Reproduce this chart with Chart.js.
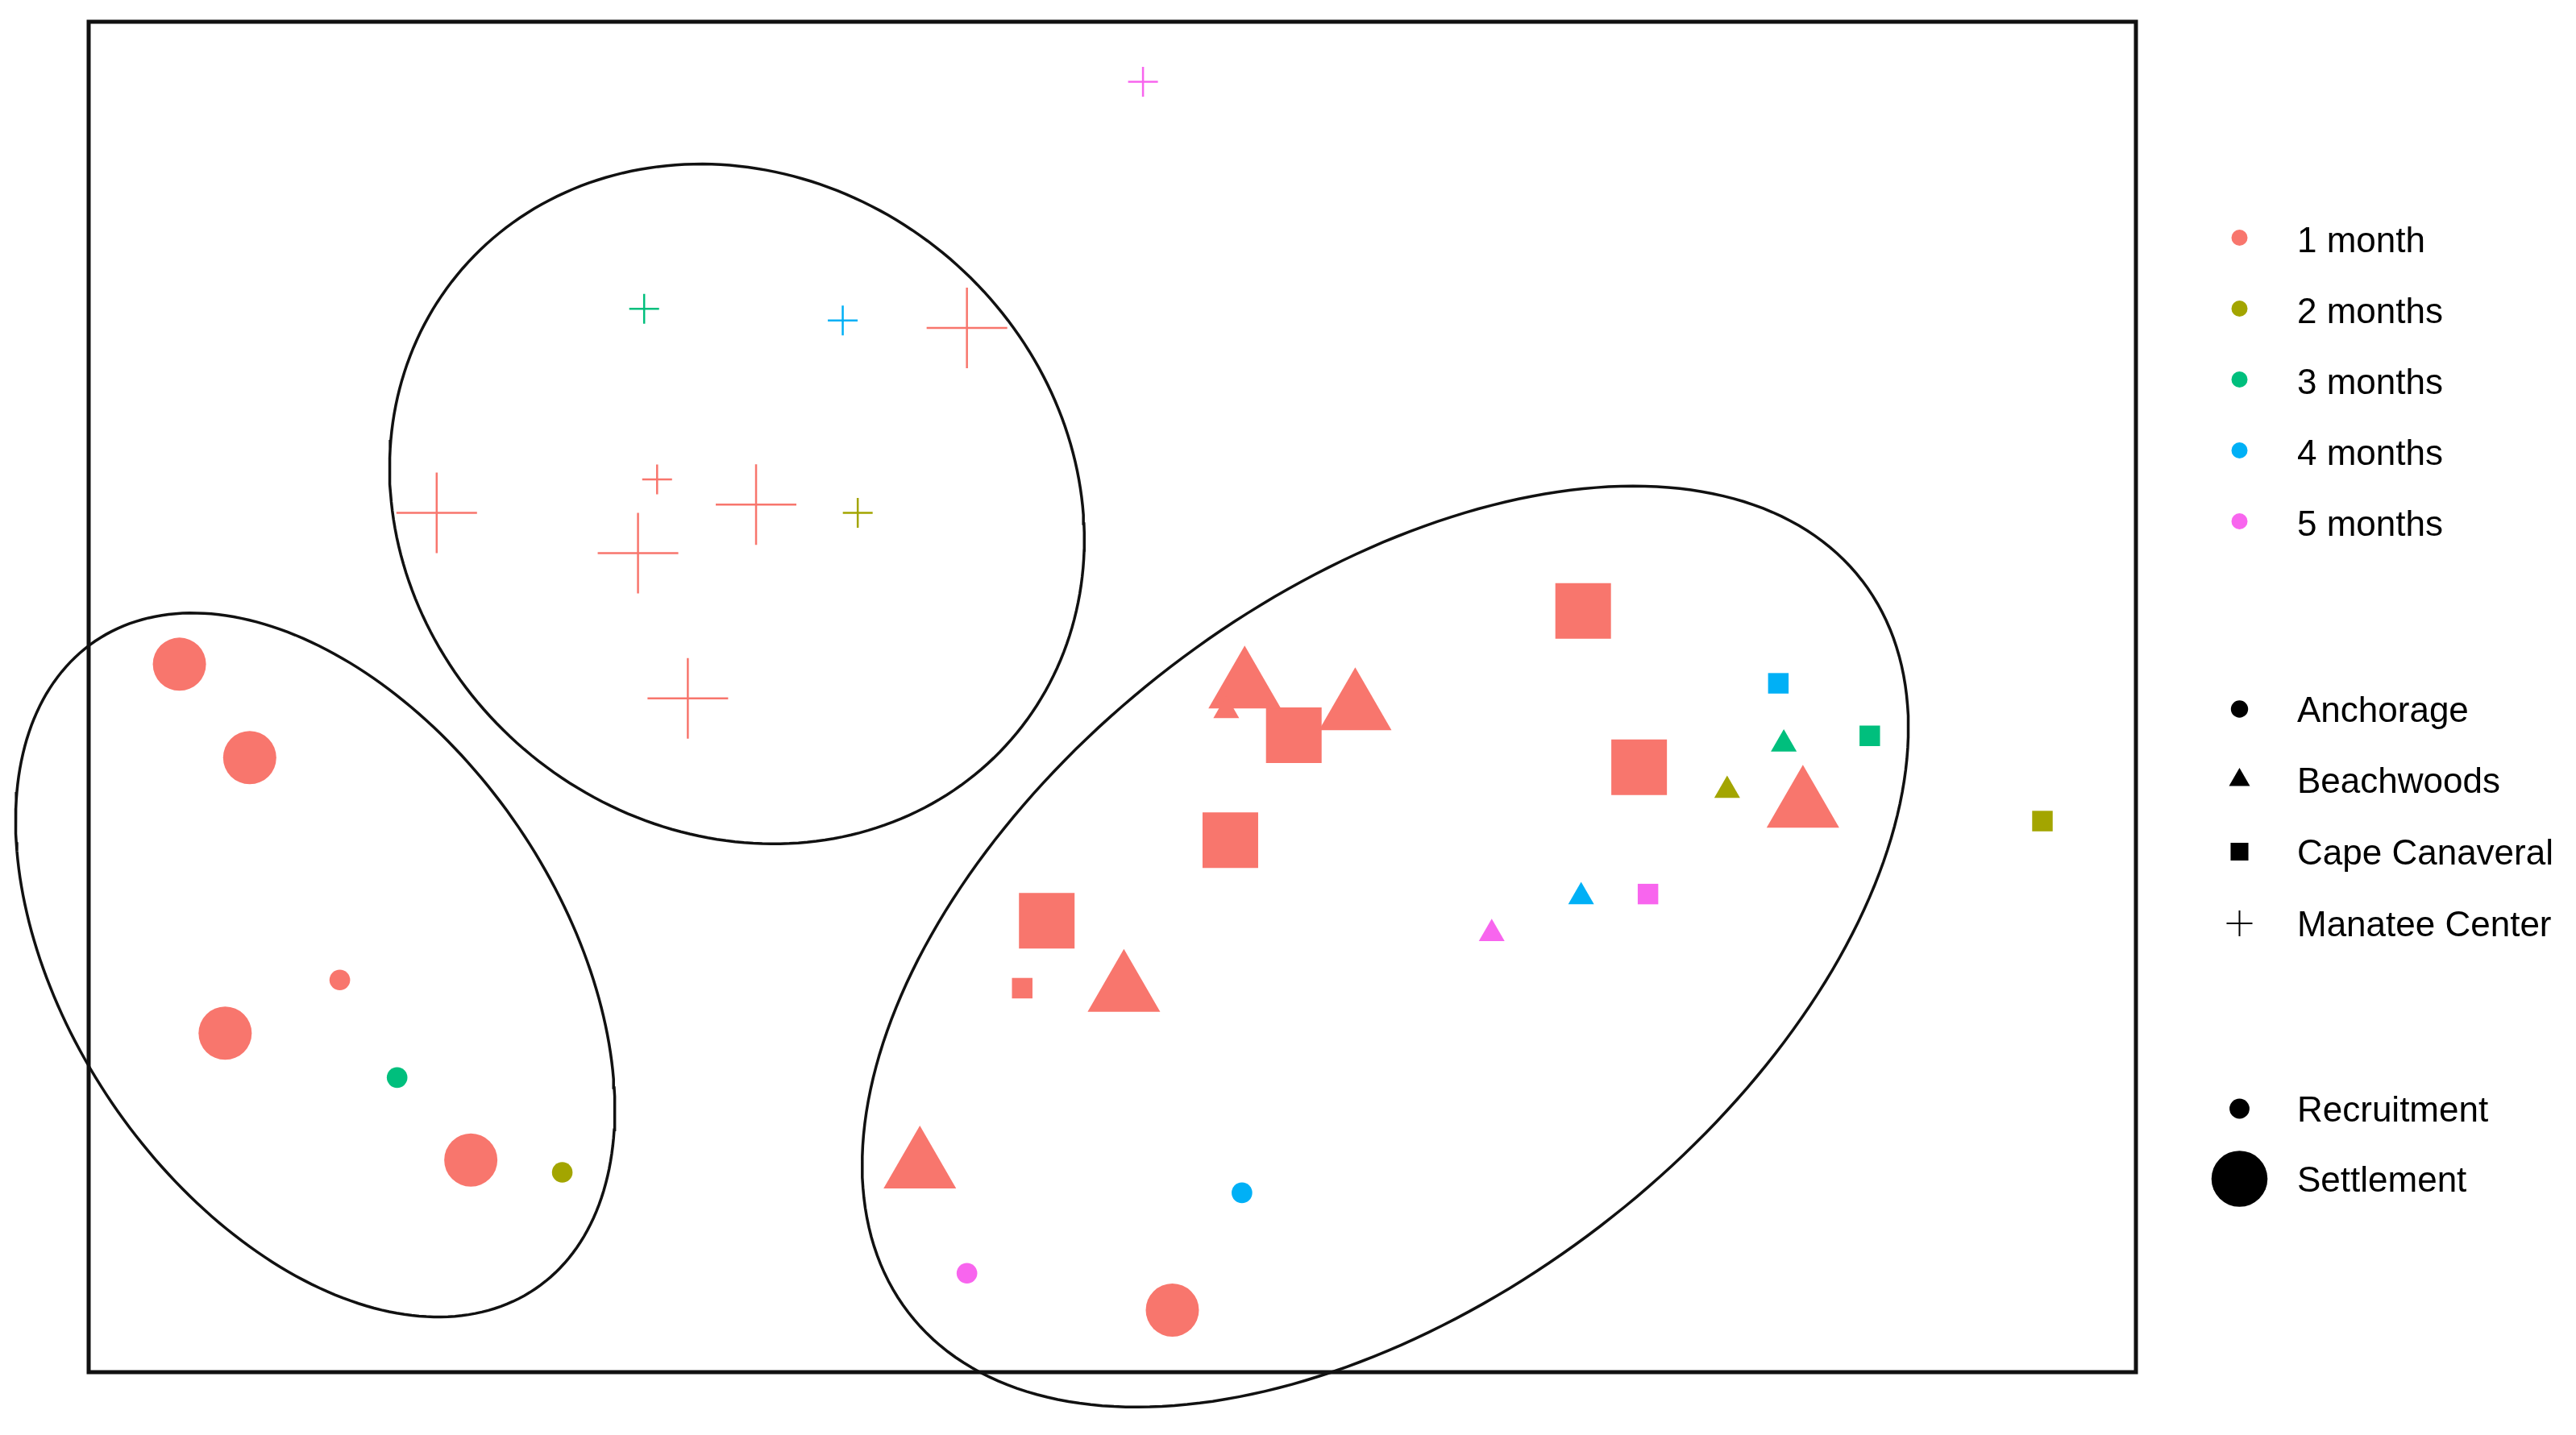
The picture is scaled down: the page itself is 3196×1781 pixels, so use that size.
<!DOCTYPE html>
<html>
<head>
<meta charset="utf-8">
<script src="https://cdn.jsdelivr.net/npm/chart.js@4.4.1/dist/chart.umd.min.js"></script>
<style>
  html, body { margin: 0; padding: 0; background: #fff; }
  #wrap { width: 3196px; height: 1781px; }
</style>
</head>
<body>
<div id="wrap"><canvas id="nmds" width="3196" height="1781"></canvas></div>
<script>
const months = ["1 month", "2 months", "3 months", "4 months", "5 months"];
const monthColors = ["#F8766D", "#A3A500", "#00BF7D", "#00B0F6", "#F865EE"];
const sites = ["Anchorage", "Beachwoods", "Cape Canaveral", "Manatee Center"];
const siteShapes = ["circle", "triangle", "rect", "cross"];
const stages = ["Recruitment", "Settlement"];

// NMDS scores per site. month = 1..5, stage S = settlement, R = recruitment
const anchorageX = [-1.367, -1.264, -1.300, -0.940, 0.088, -1.132, -1.048, -0.806, 0.190, -0.213];
const anchorageY = [0.048, -0.089, -0.493, -0.679, -0.899, -0.415, -0.558, -0.697, -0.727, -0.845];
const anchorageMonth = [1, 1, 1, 1, 1, 1, 3, 2, 4, 5];
const anchorageStage = ["S", "S", "S", "S", "S", "R", "R", "R", "R", "R"];

const beachwoodsX = [0.194, 0.356, 1.012, 0.017, -0.282, 0.167, 0.901, 0.984, 0.687, 0.556];
const beachwoodsY = [0.014, -0.018, -0.161, -0.431, -0.690, -0.020, -0.137, -0.069, -0.293, -0.347];
const beachwoodsMonth = [1, 1, 1, 1, 1, 1, 2, 3, 4, 5];
const beachwoodsStage = ["S", "S", "S", "S", "S", "R", "R", "R", "R", "R"];

const capeX = [0.690, 0.266, 0.772, 0.173, -0.096, -0.132, 1.363, 1.110, 0.976, 0.785];
const capeY = [0.126, -0.056, -0.103, -0.210, -0.328, -0.427, -0.182, -0.057, 0.020, -0.289];
const capeMonth = [1, 1, 1, 1, 1, 1, 2, 3, 4, 5];
const capeStage = ["S", "S", "S", "S", "S", "R", "R", "R", "R", "R"];

const manateeX = [-0.213, -0.990, -0.522, -0.695, -0.622, -0.667, -0.373, -0.686, -0.395, 0.045];
const manateeY = [0.541, 0.270, 0.282, 0.211, -0.002, 0.319, 0.270, 0.569, 0.552, 0.902];
const manateeMonth = [1, 1, 1, 1, 1, 1, 2, 3, 4, 5];
const manateeStage = ["S", "S", "S", "S", "S", "R", "R", "R", "R", "R"];

// group ellipses: centre, semi-axes, rotation (degrees)
const ellipseCx = [-1.168, -0.550, 0.400];
const ellipseCy = [-0.393, 0.283, -0.366];
const ellipseA = [0.574, 0.530, 0.881];
const ellipseB = [0.360, 0.476, 0.517];
const ellipseAngle = [-55.8, -39.3, 37.5];

// marker radius by shape: [recruitment, settlement]
const markerRadius = { circle: [12.8, 33], triangle: [18.5, 52], rect: [18, 48.8], cross: [18.5, 50] };

const siteData = [
  [anchorageX, anchorageY, anchorageMonth, anchorageStage],
  [beachwoodsX, beachwoodsY, beachwoodsMonth, beachwoodsStage],
  [capeX, capeY, capeMonth, capeStage],
  [manateeX, manateeY, manateeMonth, manateeStage]
];

const datasets = [];

ellipseCx.forEach((cx, i) => {
  const pts = [];
  const phi = ellipseAngle[i] * Math.PI / 180;
  for (let k = 0; k <= 240; k++) {
    const t = k / 240 * 2 * Math.PI;
    const u = ellipseA[i] * Math.cos(t), v = ellipseB[i] * Math.sin(t);
    pts.push({ x: cx + u * Math.cos(phi) - v * Math.sin(phi), y: ellipseCy[i] + u * Math.sin(phi) + v * Math.cos(phi) });
  }
  datasets.push({
    label: "ellipse " + (i + 1),
    data: pts,
    showLine: true,
    borderColor: "#111",
    borderWidth: 3.5,
    pointRadius: 0,
    tension: 0,
    fill: false,
    clip: false,
    order: 0
  });
});

siteData.forEach(([xs, ys, ms, ss], i) => {
  const shape = siteShapes[i];
  const colors = ms.map(m => monthColors[m - 1]);
  const isCross = shape === "cross";
  datasets.push({
    label: sites[i],
    data: xs.map((x, j) => ({ x: x, y: ys[j] })),
    pointStyle: shape,
    pointRadius: ss.map(s => markerRadius[shape][s === "S" ? 1 : 0]),
    pointBackgroundColor: colors,
    pointBorderColor: colors,
    pointBorderWidth: isCross ? 2.5 : 0,
    showLine: false,
    clip: false,
    order: 1
  });
});

function drawMarker(ctx, style, x, y, r, color, lw) {
  ctx.fillStyle = color;
  ctx.strokeStyle = color;
  ctx.beginPath();
  if (style === "circle") {
    ctx.arc(x, y, r, 0, Math.PI * 2);
    ctx.fill();
  } else if (style === "triangle") {
    ctx.moveTo(x, y - r);
    ctx.lineTo(x + r * Math.sin(2 * Math.PI / 3), y + r / 2);
    ctx.lineTo(x - r * Math.sin(2 * Math.PI / 3), y + r / 2);
    ctx.closePath();
    ctx.fill();
  } else if (style === "rect") {
    const s = r * Math.SQRT1_2;
    ctx.rect(x - s, y - s, 2 * s, 2 * s);
    ctx.fill();
  } else {
    ctx.lineWidth = lw || 2;
    ctx.moveTo(x - r, y); ctx.lineTo(x + r, y);
    ctx.moveTo(x, y - r); ctx.lineTo(x, y + r);
    ctx.stroke();
  }
}

const legendPlugin = {
  id: "nmdsLegend",
  afterDraw(chart) {
    const ctx = chart.ctx;
    const a = chart.chartArea;
    ctx.save();
    // panel frame
    ctx.strokeStyle = "#111";
    ctx.lineWidth = 5;
    ctx.strokeRect(a.left, a.top, a.right - a.left, a.bottom - a.top);

    const mx = 2778.5, tx = 2850;
    ctx.font = '44px "Liberation Sans", Arial, sans-serif';
    ctx.textBaseline = "alphabetic";
    ctx.textAlign = "left";

    months.forEach((m, i) => {
      const y = 295 + 88 * i;
      drawMarker(ctx, "circle", mx, y, 10, monthColors[i]);
      ctx.fillStyle = "#000";
      ctx.fillText(m, tx, y + 18);
    });

    const siteRows = [880, 968, 1057, 1146];
    const siteLegendR = [10.7, 15, 15.6, 16];
    sites.forEach((s, i) => {
      const y = siteRows[i];
      drawMarker(ctx, siteShapes[i], mx, y, siteLegendR[i], "#000", 2);
      ctx.fillStyle = "#000";
      ctx.fillText(s, tx, y + 16);
    });

    const stageRows = [1376, 1463];
    const stageR = [12.4, 34.8];
    stages.forEach((s, i) => {
      const y = stageRows[i];
      drawMarker(ctx, "circle", mx, y, stageR[i], "#000");
      ctx.fillStyle = "#000";
      ctx.fillText(s, tx, y + 16);
    });
    ctx.restore();
  }
};

new Chart(document.getElementById("nmds").getContext("2d"), {
  type: "scatter",
  data: { datasets: datasets },
  options: {
    responsive: false,
    animation: false,
    events: [],
    layout: { autoPadding: false, padding: { left: 110, top: 27, right: 546, bottom: 78 } },
    scales: {
      x: { type: "linear", min: -1.5, max: 1.5, display: false },
      y: { type: "linear", min: -0.99, max: 0.99, display: false }
    },
    plugins: {
      legend: { display: false },
      tooltip: { enabled: false }
    }
  },
  plugins: [legendPlugin]
});
</script>
</body>
</html>
